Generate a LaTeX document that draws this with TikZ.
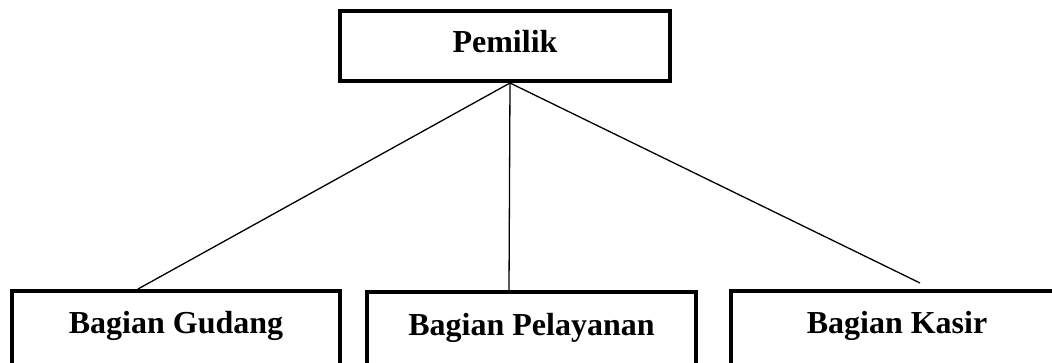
\documentclass[tikz,border=0pt]{standalone}
\usepackage{fontspec}
\setmainfont{Liberation Serif}
\usetikzlibrary{calc}
\begin{document}
\begin{tikzpicture}[x=1pt,y=-1pt,
  orgbox/.style={draw=black, line width=4pt, rectangle, inner sep=0pt,
    text height=22pt, text depth=8pt, font=\fontsize{32}{38}\selectfont\bfseries,
    minimum height=70pt},
  lowbox/.style={orgbox, text depth=16pt, minimum height=80pt},
  link/.style={draw=black, line width=1.3pt}]
\useasboundingbox (0,0) rectangle (1052,363);
\clip (0,0) rectangle (1052,363);
\node[orgbox, minimum width=330pt] (pemilik) at (505,46) {Pemilik};
\node[lowbox, minimum width=328pt] (gudang) at (176,331) {Bagian Gudang};
\node[lowbox, minimum width=329pt] (pelayanan) at (531.5,332) {Bagian Pelayanan};
\node[lowbox, minimum width=332pt] (kasir) at (897,331) {Bagian Kasir};
\coordinate (apex) at ($(pemilik.south)+(5,0)$);
\coordinate (kasirend) at (920,283);
\draw[link] (apex) -- ($(gudang.north)+(-38,0)$);
\draw[link] (apex) -- ($(pelayanan.north)+(-22.5,0)$);
\draw[link] (apex) -- (kasirend);
\end{tikzpicture}
\end{document}
